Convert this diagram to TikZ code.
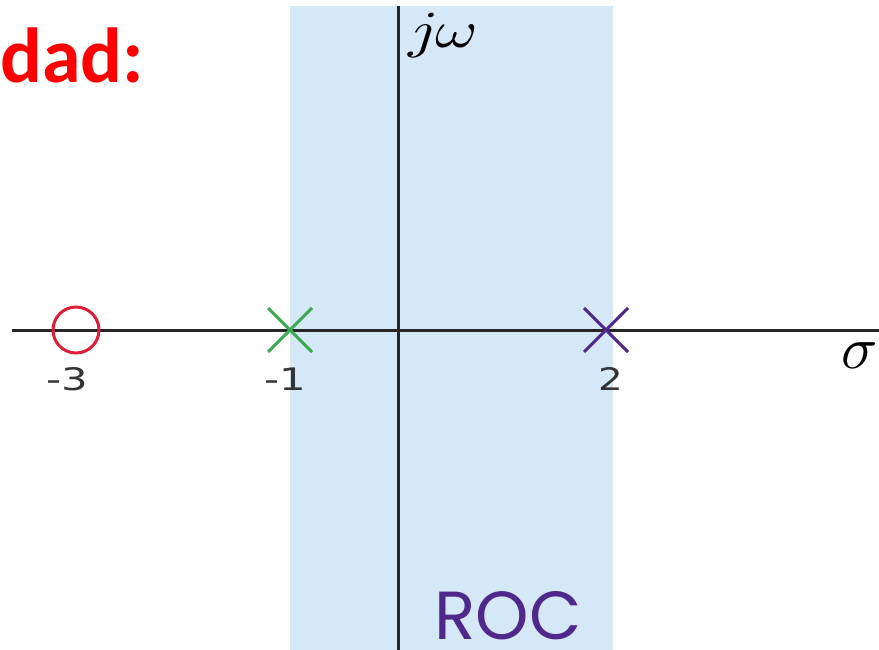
\documentclass[tikz,border=0pt]{standalone}
\usepackage{fontspec}
\usepackage{unicode-math}
\setmathfont{Latin Modern Math}
\usetikzlibrary{calc}
\newfontfamily\titlefont{Carlito}
\newfontfamily\rocfont{Poppins}
\newfontfamily\labfont{DejaVu Sans}
\definecolor{rocblue}{RGB}{212,232,248}
\definecolor{zerored}{RGB}{225,30,55}
\definecolor{polegreen}{RGB}{60,170,80}
\definecolor{polepurple}{RGB}{80,40,140}
\definecolor{titlered}{RGB}{255,0,0}
\tikzset{
  axis/.style={line width=3pt,black!85},
  polemark/.style={line width=3pt},
  tick/.style={font=\labfont\fontsize{31}{32}\selectfont,text=black!80,inner sep=0pt},
}
\begin{document}
\begin{tikzpicture}[x=1pt,y=-1pt]
\useasboundingbox (0,0) rectangle (879,650);
\fill[rocblue] (290,6) rectangle (613,650);
\coordinate (xl) at (12,330);
\coordinate (xr) at (879,330);
\coordinate (yt) at (398,6);
\coordinate (yb) at (398,650);
\draw[axis] (xl) -- (xr);
\draw[axis] (yt) -- (yb);
% zero at -3
\node[draw=zerored,line width=3pt,circle,minimum size=46pt,inner sep=0pt] (z3) at (76,330) {};
% pole at -1
\coordinate (p1) at (290,330);
\draw[polemark,polegreen] ($(p1)+(-22,-22)$) -- ($(p1)+(22,22)$) ($(p1)+(-22,22)$) -- ($(p1)+(22,-22)$);
% pole at 2
\coordinate (p2) at (606,330);
\draw[polemark,polepurple] ($(p2)+(-22,-22)$) -- ($(p2)+(22,22)$) ($(p2)+(-22,22)$) -- ($(p2)+(22,-22)$);
\node[tick] (l3) at (67,379) {\scalebox{1.35}[1]{-3}};
\node[tick] (l1) at (285,379) {\scalebox{1.35}[1]{-1}};
\node[tick] (l2) at (611,379) {\scalebox{1.25}[1]{2}};
\node[inner sep=0pt,font=\fontsize{60}{60}\selectfont] (sig) at (859,356) {$\sigma$};
\node[inner sep=0pt,font=\fontsize{52}{52}\selectfont,anchor=west] (jw) at (408,36) {\scalebox{1.25}[1]{$j\omega$}};
\node[inner sep=0pt,text depth=0pt,text=polepurple,font=\rocfont\fontsize{68}{68}\selectfont,anchor=base] (roc) at (508,639) {ROC};
\node[inner sep=0pt,text depth=0pt,anchor=base west,text=titlered,font=\titlefont\bfseries\fontsize{78}{78}\selectfont] (t) at (0,83) {dad:};
\end{tikzpicture}
\end{document}
